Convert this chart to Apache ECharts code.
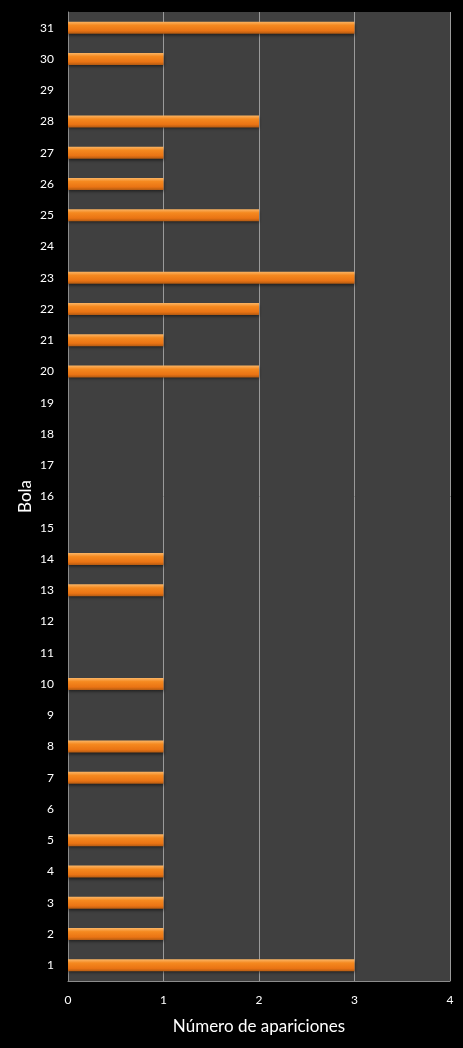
<!DOCTYPE html>
<html style="height: 100%">
<head>
<meta charset="utf-8">
</head>
<body style="height: 100%; margin: 0; background: #000">
<div id="container" style="height: 100%"></div>
<script type="text/javascript" src="https://cdn.jsdelivr.net/npm/echarts@6/dist/echarts.min.js"></script>
<script type="text/javascript">
// bolas 1..31 (abajo a arriba)
var bolas = [];
for (var i = 1; i <= 31; i++) bolas.push(String(i));
var apariciones = [3, 1, 1, 1, 1, 0, 1, 1, 0, 1,
                   0, 0, 1, 1, 0, 0, 0, 0, 0, 2,
                   1, 2, 3, 0, 2, 1, 1, 2, 0, 1, 3];
var xTicks = [0, 1, 2, 3, 4];

var myChart = echarts.init(document.getElementById('container'));
var font = 'Lato, "Open Sans", sans-serif';

var option = {
    backgroundColor: '#000000',
    animation: false,
    grid: {
        left: 68, right: 13, top: 12, bottom: 67,
        show: true, backgroundColor: '#404040', borderWidth: 0
    },
    xAxis: {
        type: 'value',
        min: xTicks[0], max: xTicks[xTicks.length - 1], interval: 1,
        name: 'Número de apariciones',
        nameLocation: 'middle',
        nameGap: 37,
        nameTextStyle: { color: '#ffffff', fontSize: 17, fontFamily: font },
        axisLine: { show: true, lineStyle: { color: '#8c8c8c', width: 1 } },
        axisTick: { show: false },
        axisLabel: { color: '#ffffff', fontSize: 12, fontFamily: font, margin: 13 },
        splitLine: { show: true, lineStyle: { color: '#9a9a9a', width: 1 } }
    },
    yAxis: {
        type: 'category',
        data: bolas,
        name: 'Bola',
        nameLocation: 'middle',
        nameGap: 34,
        nameMoveOverlap: false,
        nameRotate: 90,
        nameTextStyle: { color: '#ffffff', fontSize: 17, fontFamily: font },
        axisLine: { show: true, lineStyle: { color: '#8c8c8c', width: 1 } },
        axisTick: { show: false },
        axisLabel: { color: '#ffffff', fontSize: 12, fontFamily: font, margin: 14 },
        splitLine: { show: false }
    },
    series: [{
        type: 'bar',
        data: apariciones,
        barWidth: 12,
        itemStyle: {
            color: {
                type: 'linear', x: 0, y: 0, x2: 0, y2: 1,
                colorStops: [
                    { offset: 0, color: '#fbb565' },
                    { offset: 0.3, color: '#f5891f' },
                    { offset: 0.75, color: '#ea7414' },
                    { offset: 1, color: '#b35a12' }
                ]
            },
            shadowColor: 'rgba(0,0,0,0.5)',
            shadowBlur: 3,
            shadowOffsetY: 2
        }
    }]
};
myChart.setOption(option);
</script>
</body>
</html>
